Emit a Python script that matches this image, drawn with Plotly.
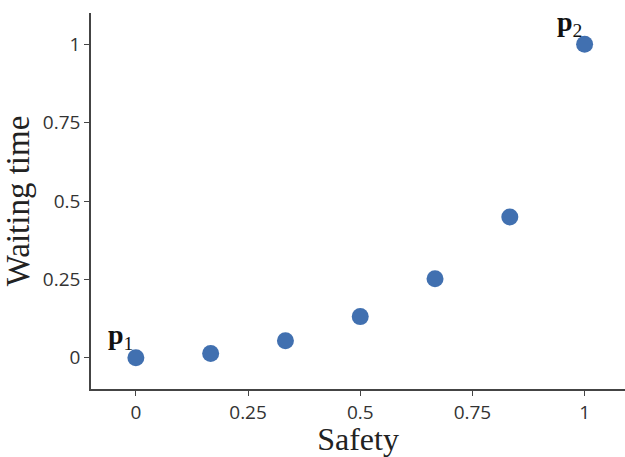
import plotly.graph_objects as go

safety = [0, 1/6, 2/6, 3/6, 4/6, 5/6, 1]
waiting = [0.0, 0.013, 0.054, 0.131, 0.252, 0.449, 1.0]
x_ticks = [0, 0.25, 0.5, 0.75, 1]
x_tick_text = ["0", "0.25", "0.5", "0.75", "1"]
y_ticks = [0, 0.25, 0.5, 0.75, 1]
y_tick_text = ["0", "0.25", "0.5", "0.75", "1"]
labels = ["<b>p</b><sub>1</sub>", "<b>p</b><sub>2</sub>"]
label_idx = [0, 6]

SERIF = "Liberation Serif, DejaVu Serif, serif"
SANS = "Open Sans, Noto Sans, sans-serif"

fig = go.Figure()
fig.add_trace(go.Scatter(
    x=safety, y=waiting, mode="markers",
    marker=dict(size=17, color="#4170b0"),
    showlegend=False,
))

for lab, i in zip(labels, label_idx):
    fig.add_annotation(
        x=safety[i], y=waiting[i], text=lab, showarrow=False,
        xshift=-15, yshift=21,
        font=dict(family=SERIF, size=28, color="#111"),
    )

axis_common = dict(
    showgrid=False, zeroline=False, showline=True, linecolor="#444", linewidth=1.5,
    ticks="outside", ticklen=5, tickwidth=1.3, tickcolor="#444",
    tickfont=dict(family=SANS, size=19, color="#333"),
)

fig.update_layout(
    width=625, height=457,
    margin=dict(l=91, r=0, t=13, b=68),
    plot_bgcolor="white", paper_bgcolor="white",
    xaxis=dict(range=[-0.1, 1.09], tickvals=x_ticks, ticktext=x_tick_text,
               title=dict(text="Safety", standoff=7,
                          font=dict(family=SERIF, size=32, color="#222")),
               **axis_common),
    yaxis=dict(range=[-0.1, 1.1], tickvals=y_ticks, ticktext=y_tick_text,
               title=dict(text="Waiting time", standoff=6,
                          font=dict(family=SERIF, size=33, color="#222")),
               **axis_common),
)

fig.write_html("out.html")
